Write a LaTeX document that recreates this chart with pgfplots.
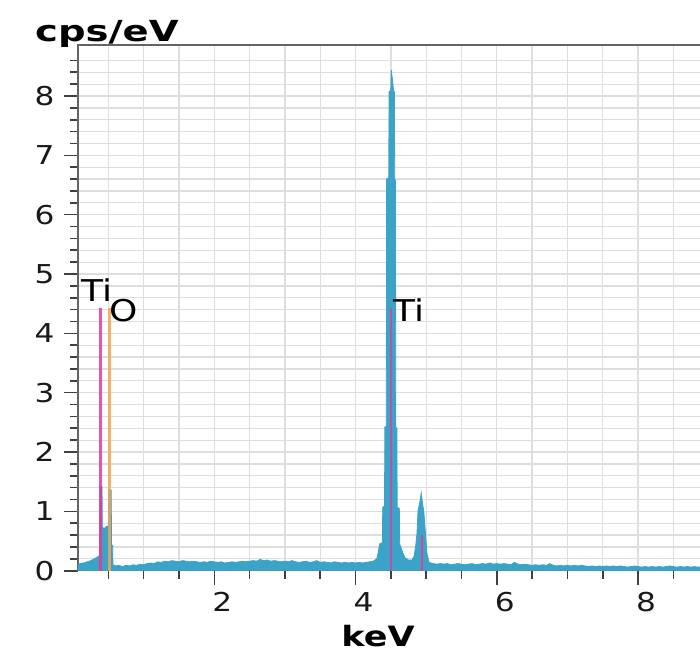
\documentclass[border=0pt]{standalone}
\usepackage{pgfplots}
\pgfplotsset{compat=1.18}
\usepackage{fontspec}
\setmainfont[FakeStretch=1.2]{DejaVu Sans}
\newfontfamily\labfontA[FakeStretch=1.33]{DejaVu Sans}
\newfontfamily\labfontB[FakeStretch=1.25]{DejaVu Sans}
\usetikzlibrary{calc}
\definecolor{specblue}{RGB}{60,163,200}
\definecolor{tipink}{RGB}{232,55,152}
\definecolor{oorange}{RGB}{242,165,85}
\definecolor{gridgray}{RGB}{222,222,222}
\definecolor{framegray}{RGB}{100,100,100}
\begin{document}
\begin{tikzpicture}
\begin{axis}[
  scale only axis,
  width=625pt, height=525.7pt,
  xmin=0.07, xmax=8.92, ymin=0, ymax=8.86,
  xtick={2,4,6,8},
  ytick={0,1,2,3,4,5,6,7,8},
  minor xtick={0.5,1,1.5,2.5,3,3.5,4.5,5,5.5,6.5,7,7.5,8.5},
  minor ytick={0.2,0.4,0.6,0.8,1.2,1.4,1.6,1.8,2.2,2.4,2.6,2.8,3.2,3.4,3.6,3.8,4.2,4.4,4.6,4.8,5.2,5.4,5.6,5.8,6.2,6.4,6.6,6.8,7.2,7.4,7.6,7.8,8.2,8.4,8.6},
  grid=both,
  major grid style={draw=gridgray, line width=1.3pt},
  minor grid style={draw=gridgray, line width=1.3pt},
  tick align=outside,
  major tick length=14pt,
  minor tick length=8pt,
  every tick/.style={draw=black!75, line width=1.6pt},
  axis line style={draw=framegray, line width=1.5pt},
  tick pos=left,
  /pgf/number format/assume math mode=true,
  ticklabel style={font=\fontsize{26}{30}\selectfont, text=black!90},
  yticklabel style={anchor=east, xshift=-6pt},
  xticklabel style={anchor=north, yshift=-4pt, xshift=8pt},
  clip=true,
]
\addplot[fill=specblue, draw=specblue, line width=0.8pt] coordinates {
(0.07,0.10) (0.10,0.12) (0.15,0.13) (0.20,0.15) (0.25,0.17) (0.30,0.20) (0.33,0.22) (0.36,0.24)
(0.375,0.26) (0.38,1.42) (0.41,1.42) (0.415,0.72) (0.46,0.72) (0.47,0.75) (0.50,0.75)
(0.505,1.36) (0.54,1.36) (0.545,0.43) (0.56,0.43) (0.565,0.10) (0.60,0.08) (0.65,0.09) (0.70,0.07)
(0.75,0.09) (0.80,0.08) (0.85,0.10) (0.90,0.09) (0.95,0.11) (1.00,0.10) (1.05,0.12) (1.10,0.13)
(1.15,0.12) (1.20,0.15) (1.25,0.14) (1.30,0.16) (1.35,0.15) (1.40,0.17) (1.45,0.16) (1.50,0.15)
(1.55,0.17) (1.60,0.16) (1.65,0.15) (1.70,0.16) (1.75,0.15) (1.80,0.14) (1.85,0.15) (1.90,0.14)
(1.95,0.16) (2.00,0.15) (2.05,0.14) (2.10,0.15) (2.15,0.13) (2.20,0.14) (2.25,0.15) (2.30,0.14)
(2.35,0.15) (2.40,0.16) (2.45,0.15) (2.50,0.16) (2.55,0.17) (2.60,0.16) (2.65,0.19) (2.70,0.17)
(2.75,0.18) (2.80,0.16) (2.85,0.17) (2.90,0.16) (2.95,0.15) (3.00,0.16) (3.05,0.15) (3.10,0.17)
(3.15,0.15) (3.20,0.14) (3.25,0.15) (3.30,0.16) (3.35,0.14) (3.40,0.15) (3.45,0.17) (3.50,0.14)
(3.55,0.15) (3.60,0.14) (3.65,0.13) (3.70,0.15) (3.75,0.14) (3.80,0.13) (3.85,0.14) (3.90,0.13)
(3.95,0.14) (4.00,0.13) (4.05,0.14) (4.10,0.13) (4.15,0.14) (4.20,0.15) (4.25,0.16) (4.30,0.20)
(4.32,0.30) (4.34,0.45) (4.38,0.47) (4.385,1.07) (4.41,1.09) (4.415,2.42) (4.435,2.44)
(4.44,6.6) (4.47,6.62) (4.475,8.07) (4.50,8.1) (4.505,8.44) (4.52,8.3) (4.54,8.07) (4.55,8.07)
(4.555,6.6) (4.565,6.58) (4.57,2.42) (4.585,2.40) (4.59,1.07) (4.62,1.05) (4.625,0.45) (4.67,0.30)
(4.70,0.22) (4.75,0.18) (4.80,0.18) (4.83,0.25) (4.85,0.40) (4.87,0.63) (4.885,1.02) (4.91,1.15)
(4.93,1.31) (4.95,1.12) (4.965,1.02) (4.99,0.63) (5.01,0.30) (5.04,0.14)
(5.10,0.12) (5.15,0.11) (5.20,0.12) (5.25,0.11) (5.30,0.12) (5.35,0.10) (5.40,0.11)
(5.45,0.12) (5.50,0.11) (5.55,0.10) (5.60,0.11) (5.65,0.12) (5.70,0.10) (5.75,0.11) (5.80,0.12)
(5.85,0.11) (5.90,0.13) (5.95,0.11) (6.00,0.12) (6.05,0.11) (6.10,0.12) (6.15,0.11) (6.20,0.10)
(6.25,0.14) (6.30,0.11) (6.35,0.10) (6.40,0.11) (6.45,0.10) (6.50,0.09) (6.55,0.10) (6.60,0.09)
(6.65,0.10) (6.70,0.09) (6.75,0.12) (6.80,0.09) (6.85,0.08) (6.90,0.09) (6.95,0.08) (7.00,0.09)
(7.05,0.08) (7.10,0.09) (7.15,0.08) (7.20,0.09) (7.25,0.08) (7.30,0.07) (7.35,0.08) (7.40,0.07)
(7.45,0.08) (7.50,0.07) (7.55,0.08) (7.60,0.07) (7.65,0.08) (7.70,0.07) (7.75,0.08) (7.80,0.07)
(7.85,0.06) (7.90,0.07) (7.95,0.08) (8.00,0.07) (8.05,0.06) (8.10,0.07) (8.15,0.06) (8.20,0.07)
(8.25,0.06) (8.30,0.07) (8.35,0.06) (8.40,0.07) (8.45,0.08) (8.50,0.07) (8.55,0.06) (8.60,0.07)
(8.65,0.06) (8.70,0.07) (8.75,0.06) (8.80,0.07) (8.85,0.06) (8.92,0.07)
} \closedcycle;
% element marker lines
\addplot[draw=tipink, line width=2.8pt, opacity=0.85] coordinates {(0.386,0) (0.386,4.43)};
\addplot[draw=oorange, line width=2.6pt, opacity=0.85] coordinates {(0.515,0) (0.515,4.43)};
\addplot[draw=tipink, line width=2.4pt, opacity=0.75] coordinates {(4.503,0) (4.503,4.43)};
\addplot[draw=tipink, line width=2.8pt, opacity=0.85] coordinates {(4.94,0) (4.94,0.60)};
\node[anchor=base west, inner sep=0pt, font=\fontsize{30}{34}\selectfont] at (axis cs:0.12,4.54) {Ti};
\node[anchor=base west, inner sep=0pt, font=\fontsize{30}{34}\selectfont] at (axis cs:0.52,4.20) {O};
\node[anchor=base west, inner sep=0pt, font=\fontsize{30}{34}\selectfont] at (axis cs:4.53,4.20) {Ti};
\end{axis}
\node[anchor=base west, inner sep=0pt, font=\labfontA\fontsize{29}{32}\selectfont\bfseries] at ($(current axis.north west)+(-43pt,3.5pt)$) {cps/eV};
\node[anchor=base, inner sep=0pt, font=\labfontB\fontsize{28}{32}\selectfont\bfseries] at ($(current axis.south west)+(300pt,-76pt)$) {keV};
\pgfresetboundingbox
\path ($(current axis.south west)+(-78pt,-81.3pt)$) rectangle ($(current axis.north west)+(622pt,45pt)$);
\end{tikzpicture}
\end{document}
